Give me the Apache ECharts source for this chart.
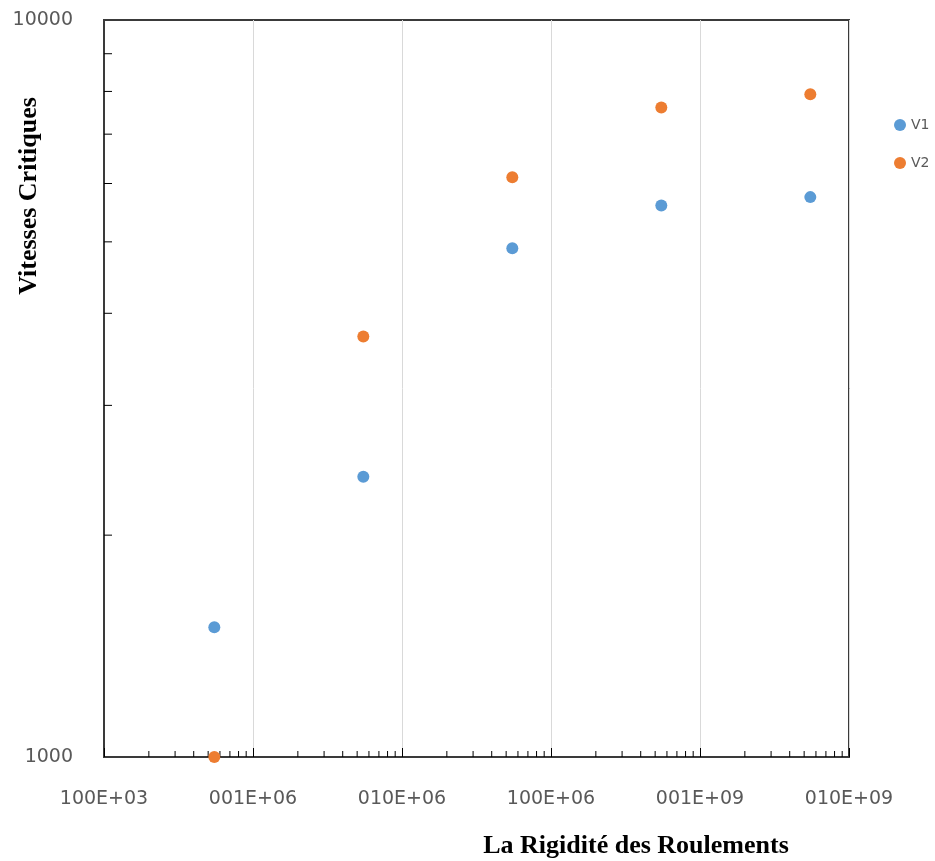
<!DOCTYPE html>
<html>
<head>
<meta charset="utf-8">
<title>Vitesses Critiques</title>
<script src="https://cdn.jsdelivr.net/npm/echarts@6/dist/echarts.min.js"></script>
<style>
  html, body { margin: 0; padding: 0; background: #fff; }
  #main { width: 935px; height: 861px; }
</style>
</head>
<body>
<div id="main"></div>
<script>
// rigidité des roulements (N/m)
var rigidite = [5.5e5, 5.5e6, 5.5e7, 5.5e8, 5.5e9];
// vitesses critiques
var v1 = [1500, 2400, 4900, 5600, 5750];
var v2 = [1000, 3720, 6120, 7610, 7930];

// labels des graduations (une par décade)
var xTickLabels = ['100E+03', '001E+06', '010E+06', '100E+06', '001E+09', '010E+09'];
var yTickLabels = ['1000', '10000'];

// petites graduations (2..9 par décade)
var xMinorTicks = [];
for (var k = 5; k < 10; k++) {
  for (var m = 2; m < 10; m++) xMinorTicks.push(m * Math.pow(10, k));
}
var yMinorTicks = [2000, 3000, 4000, 5000, 6000, 7000, 8000, 9000];

var myChart = echarts.init(document.getElementById('main'));

myChart.setOption({
  animation: false,
  grid: {
    left: 104, right: 86, top: 20, bottom: 104,
    show: true,
    borderColor: '#3a3a3a',
    borderWidth: 2
  },
  legend: {
    data: ['V1', 'V2'],
    orient: 'vertical',
    left: 889,
    top: 113,
    icon: 'circle',
    itemWidth: 12,
    itemHeight: 12,
    itemGap: 24,
    itemStyle: { opacity: 1 },
    textStyle: { fontFamily: 'DejaVu Sans', fontSize: 14, color: '#595959' }
  },
  xAxis: {
    type: 'log',
    logBase: 10,
    min: 1e5,
    max: 1e10,
    axisLine: { lineStyle: { color: '#3a3a3a', width: 2 } },
    axisTick: { inside: true, length: 9, lineStyle: { color: '#000', width: 1 } },
    splitLine: { show: true, lineStyle: { color: '#d9d9d9', width: 1 } },
    axisLabel: {
      margin: 33,
      fontFamily: 'DejaVu Sans',
      fontSize: 19,
      color: '#595959',
      formatter: function (v) {
        return xTickLabels[Math.round(Math.log10(v)) - 5];
      }
    }
  },
  yAxis: {
    type: 'log',
    logBase: 10,
    min: 1000,
    max: 10000,
    axisLine: { lineStyle: { color: '#3a3a3a', width: 2 } },
    axisTick: { show: false },
    splitLine: { show: false },
    axisLabel: {
      margin: 31,
      fontFamily: 'DejaVu Sans',
      fontSize: 19,
      color: '#595959',
      formatter: function (v) {
        return yTickLabels[Math.round(Math.log10(v)) - 3];
      }
    }
  },
  graphic: [
    {
      type: 'text',
      x: 29, y: 196,
      rotation: Math.PI / 2,
      style: {
        text: 'Vitesses Critiques',
        font: 'bold 26px "Liberation Serif"',
        fill: '#000',
        align: 'center',
        verticalAlign: 'middle'
      }
    },
    {
      type: 'text',
      x: 636, y: 846,
      style: {
        text: 'La Rigidité des Roulements',
        font: 'bold 26px "Liberation Serif"',
        fill: '#000',
        align: 'center',
        verticalAlign: 'middle'
      }
    }
  ],
  series: [
    {
      type: 'custom',
      name: 'xminor',
      silent: true,
      clip: false,
      z: 1,
      data: xMinorTicks.map(function (v) { return [v, 1000]; }),
      renderItem: function (params, api) {
        var p = api.coord([api.value(0), api.value(1)]);
        return {
          type: 'line',
          shape: { x1: p[0], y1: p[1], x2: p[0], y2: p[1] - 6 },
          style: { stroke: '#000', lineWidth: 1 }
        };
      }
    },
    {
      type: 'custom',
      name: 'yminor',
      silent: true,
      clip: false,
      z: 1,
      data: yMinorTicks.map(function (v) { return [1e5, v]; }),
      renderItem: function (params, api) {
        var p = api.coord([api.value(0), api.value(1)]);
        return {
          type: 'line',
          shape: { x1: p[0], y1: p[1], x2: p[0] + 8, y2: p[1] },
          style: { stroke: '#000', lineWidth: 1 }
        };
      }
    },
    {
      name: 'V1',
      type: 'scatter',
      symbolSize: 12,
      clip: false,
      z: 3,
      itemStyle: { color: '#5B9BD5', opacity: 1 },
      data: rigidite.map(function (x, i) { return [x, v1[i]]; })
    },
    {
      name: 'V2',
      type: 'scatter',
      symbolSize: 12,
      clip: false,
      z: 3,
      itemStyle: { color: '#ED7D31', opacity: 1 },
      data: rigidite.map(function (x, i) { return [x, v2[i]]; })
    }
  ]
});
</script>
</body>
</html>
